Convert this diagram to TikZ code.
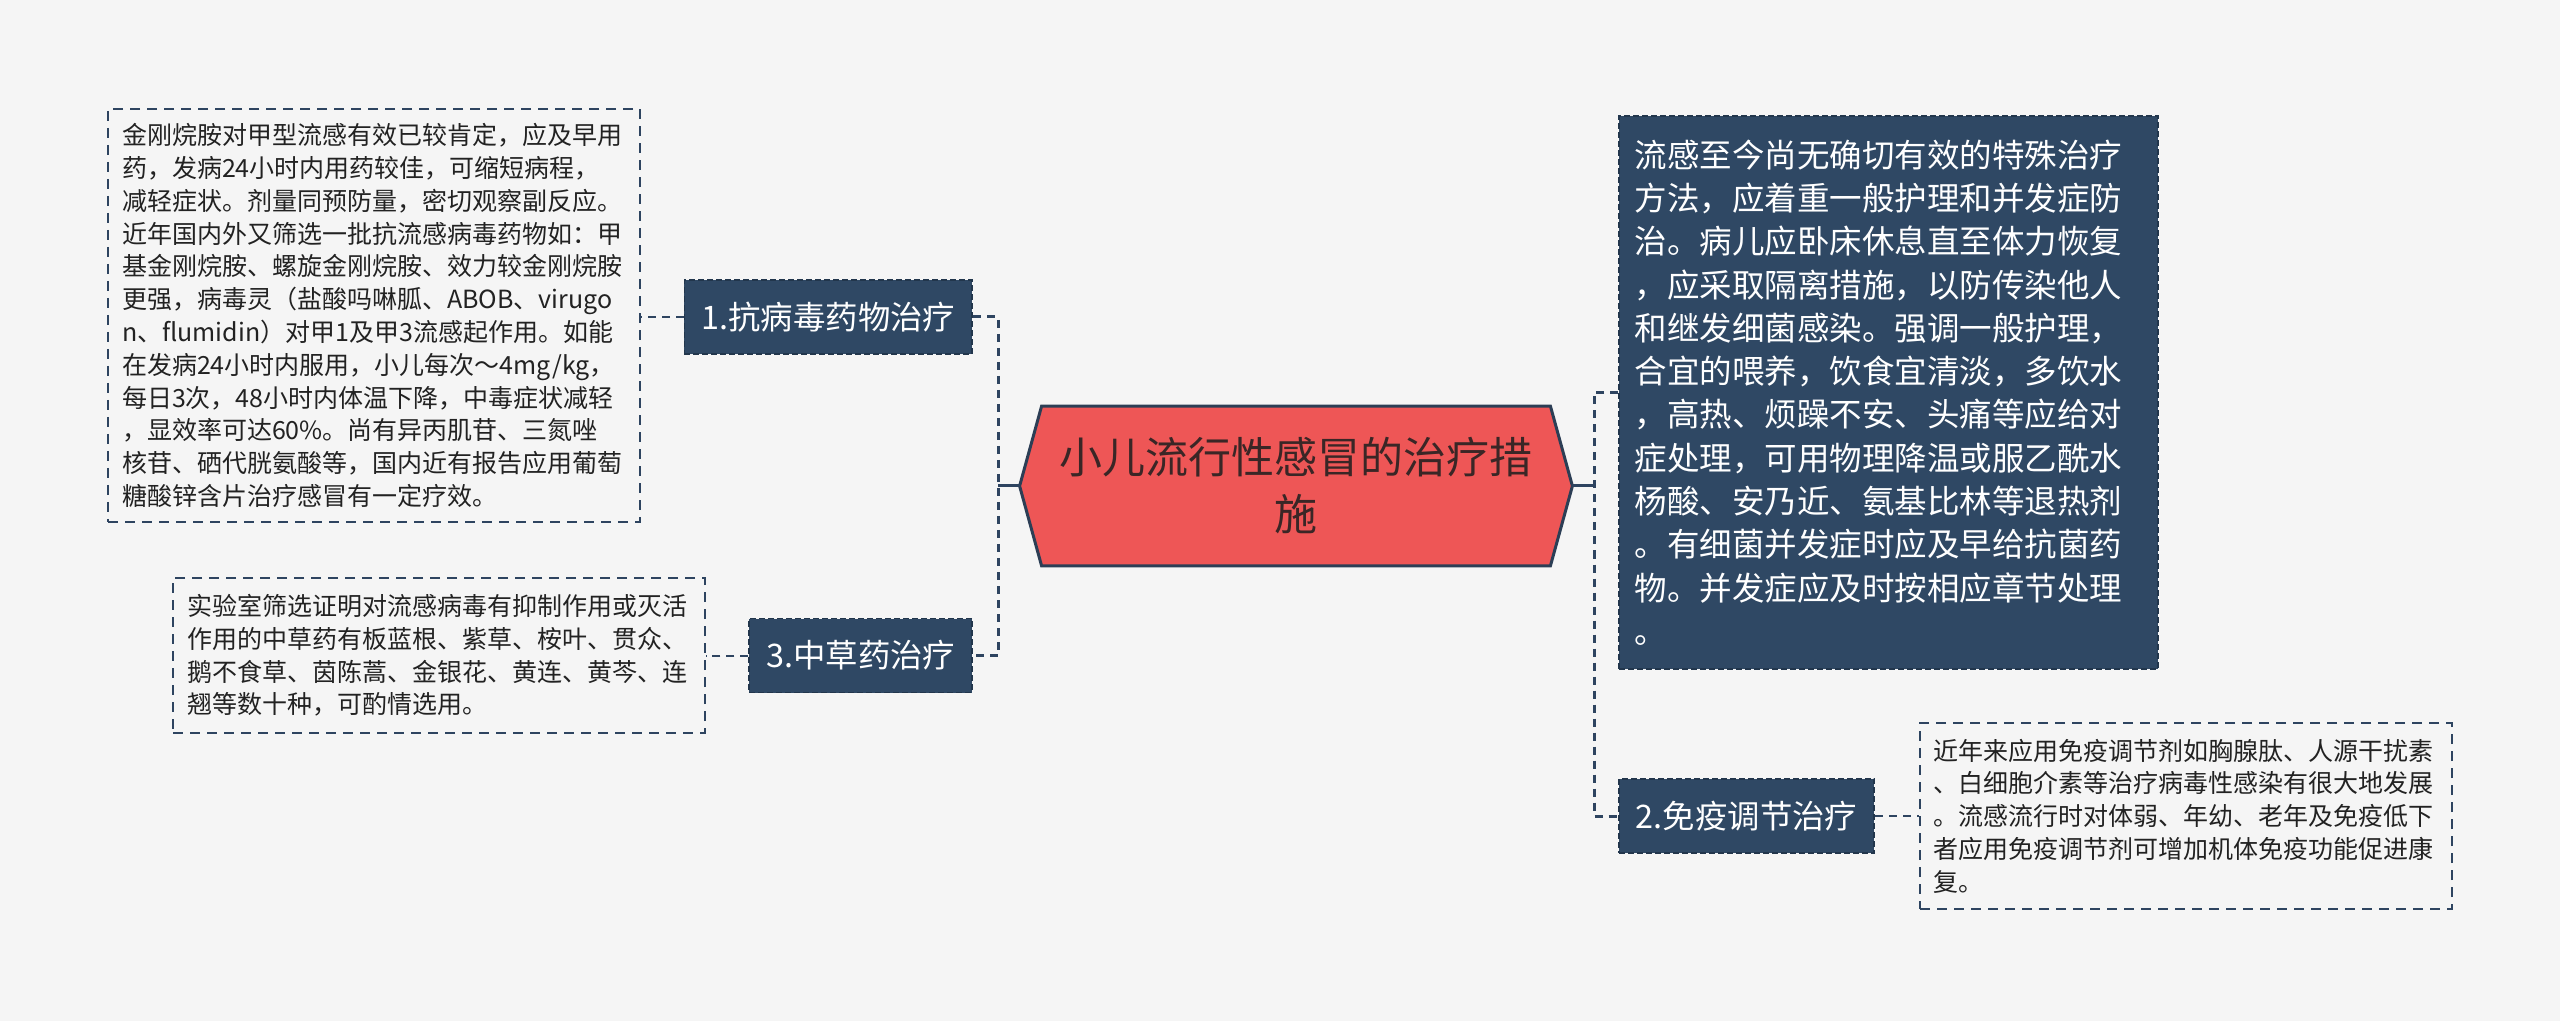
\documentclass[tikz,border=0pt]{standalone}
\usepackage{fontspec}
\setmainfont{Noto Sans CJK SC}
\usetikzlibrary{calc,backgrounds}
\definecolor{bg}{HTML}{F5F5F5}
\definecolor{navy}{HTML}{2F4864}
\definecolor{navyd}{HTML}{22364C}
\definecolor{rootred}{HTML}{EE5656}
\definecolor{rootline}{HTML}{2C3E55}
\definecolor{roottxt}{HTML}{3A2626}
\definecolor{leaftxt}{HTML}{222222}
\definecolor{linec}{HTML}{2E4460}
\tikzset{
  leafbox/.style={draw=linec, line width=1pt, dash pattern=on 5pt off 3.5pt,
    text=leaftxt, align=left, font=\fontsize{12.5pt}{16.4pt}\selectfont,
    inner xsep=7pt, inner ysep=0pt, text width=252pt, minimum width=266pt},
  branch/.style={fill=navy, draw=navyd, line width=0.8pt, dash pattern=on 3pt off 1.5pt,
    text=white, font=\fontsize{16.2pt}{20pt}\selectfont, inner xsep=8.5pt,
    inner ysep=0pt, minimum height=37pt},
  bigbox/.style={fill=navy, draw=navyd, line width=0.8pt, dash pattern=on 3pt off 1.5pt,
    text=white, align=left, font=\fontsize{16.25pt}{21.65pt}\selectfont,
    inner xsep=8pt, inner ysep=0pt, text width=253.5pt, minimum height=276.5pt},
  trunk/.style={draw=linec, line width=1.5pt, dash pattern=on 4pt off 3pt},
  twig/.style={draw=linec, line width=1pt, dash pattern=on 4pt off 3pt},
  rootlink/.style={draw=linec, line width=1.5pt},
}
\begin{document}
\begin{tikzpicture}[x=0.5pt,y=-0.5pt]
\begin{pgfonlayer}{background}
\fill[bg] (0,0) rectangle (2560,1021);
\end{pgfonlayer}
\useasboundingbox (0,0) rectangle (2560,1021);

% root
\node[draw=none, minimum width=254pt, minimum height=79.5pt, inner sep=0pt,
  text=roottxt, align=center, text width=250pt,
  font=\fontsize{21.5pt}{28.5pt}\selectfont] (root) at (1296,486)
  {小儿流行性感冒的治疗措\\施};
\coordinate (rootW) at ($(root.west)+(-22,0)$);
\coordinate (rootE) at ($(root.east)+(22,0)$);
\begin{pgfonlayer}{background}
\filldraw[fill=rootred, draw=rootline, line width=1.5pt, line join=miter]
  (root.north west) -- (root.north east) -- (rootE) -- (root.south east)
  -- (root.south west) -- (rootW) -- cycle;
\end{pgfonlayer}

% left branches
\node[branch, anchor=east] (n1) at (973,317) {1.抗病毒药物治疗};
\node[branch, anchor=east] (n3) at (973,655.5) {3.中草药治疗};
\coordinate (lt) at (998,486);

\node[leafbox, minimum height=206.5pt] (l1) at (374,315.5) {金刚烷胺对甲型流感有效已较肯定，应及早用\\
药，发病24小时内用药较佳，可缩短病程，\\
减轻症状。剂量同预防量，密切观察副反应。\\
近年国内外又筛选一批抗流感病毒药物如：甲\\
基金刚烷胺、螺旋金刚烷胺、效力较金刚烷胺\\
更强，病毒灵（盐酸吗啉胍、ABOB、virugo\\
n、flumidin）对甲1及甲3流感起作用。如能\\
在发病24小时内服用，小儿每次～4mg/kg，\\
每日3次，48小时内体温下降，中毒症状减轻\\
，显效率可达60\%。尚有异丙肌苷、三氮唑\\
核苷、硒代胱氨酸等，国内近有报告应用葡萄\\
糖酸锌含片治疗感冒有一定疗效。};

\node[leafbox, minimum height=77.5pt] (l3) at (439,655.5) {实验室筛选证明对流感病毒有抑制作用或灭活\\
作用的中草药有板蓝根、紫草、桉叶、贯众、\\
鹅不食草、茵陈蒿、金银花、黄连、黄芩、连\\
翘等数十种，可酌情选用。};

% right branches
\node[bigbox, anchor=west] (n4) at (1618,392.5) {流感至今尚无确切有效的特殊治疗\\
方法，应着重一般护理和并发症防\\
治。病儿应卧床休息直至体力恢复\\
，应采取隔离措施，以防传染他人\\
和继发细菌感染。强调一般护理，\\
合宜的喂养，饮食宜清淡，多饮水\\
，高热、烦躁不安、头痛等应给对\\
症处理，可用物理降温或服乙酰水\\
杨酸、安乃近、氨基比林等退热剂\\
。有细菌并发症时应及早给抗菌药\\
物。并发症应及时按相应章节处理\\
。};
\node[branch, anchor=west] (n2) at (1618,816) {2.免疫调节治疗};
\coordinate (rt) at (1594,486);

\node[leafbox, minimum height=93pt, inner xsep=6.5pt, text width=253pt] (l2) at (2186,816) {近年来应用免疫调节剂如胸腺肽、人源干扰素\\
、白细胞介素等治疗病毒性感染有很大地发展\\
。流感流行时对体弱、年幼、老年及免疫低下\\
者应用免疫调节剂可增加机体免疫功能促进康\\
复。};

% connectors
\draw[rootlink] (rootW) -- (lt);
\draw[rootlink] (rootE) -- (rt);
\draw[trunk] (n1.east) -- (n1.east -| lt) -- (n3.east -| lt) -- (n3.east);
\draw[trunk] (n4.west) -- (n4.west -| rt) -- (n2.west -| rt) -- (n2.west);
\draw[twig] (n1.west) -- (n1.west -| l1.east);
\draw[twig] (n3.west) -- (n3.west -| l3.east);
\draw[twig] (n2.east) -- (n2.east -| l2.west);
\end{tikzpicture}
\end{document}
